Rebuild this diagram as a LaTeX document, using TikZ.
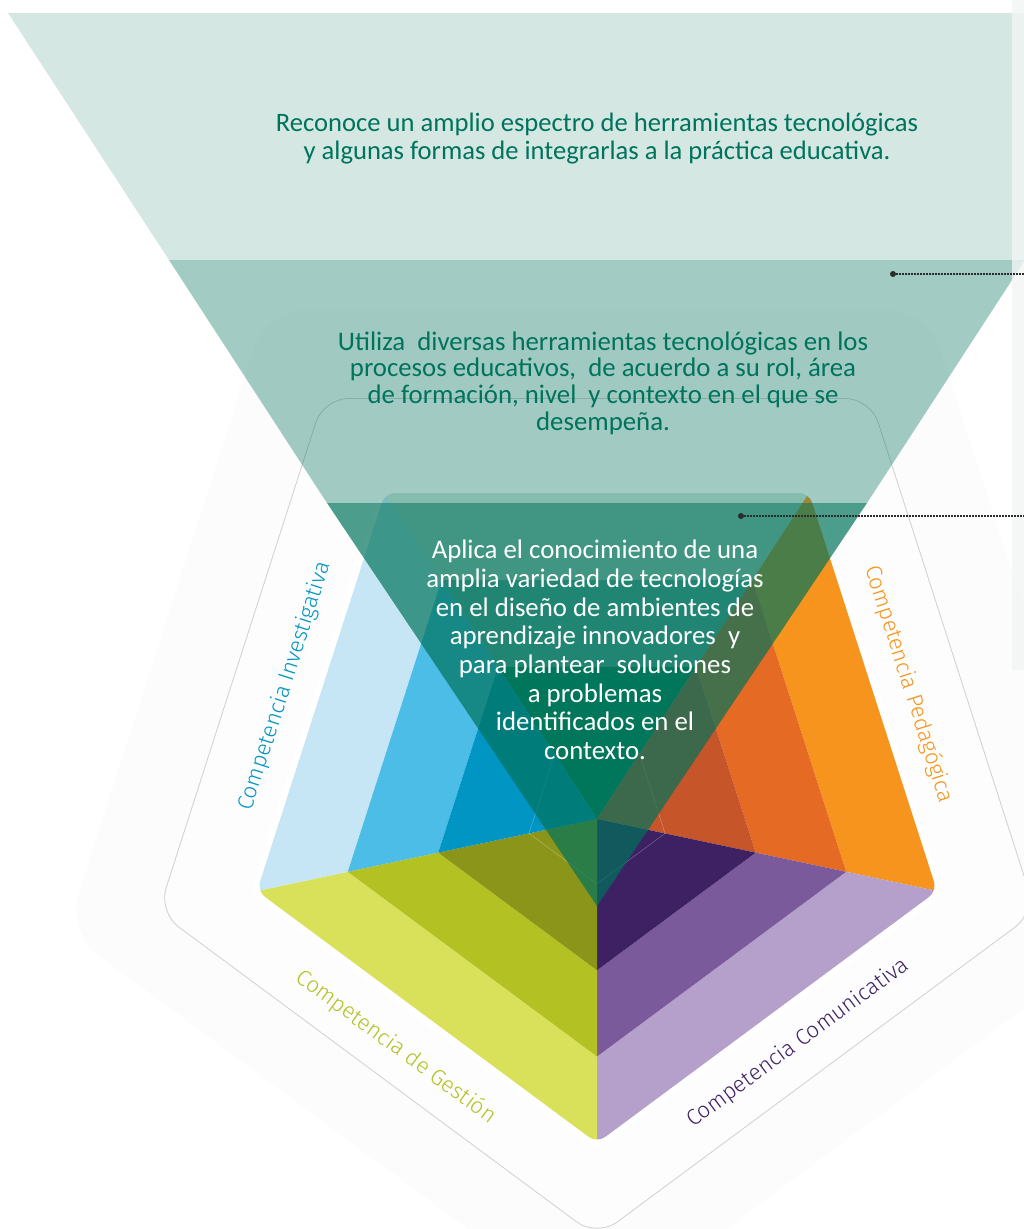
\documentclass[tikz,border=0pt]{standalone}
\usepackage{fontspec}
\setmainfont{Carlito}
\newfontfamily\lightfont{Fira Sans Light}
\usetikzlibrary{calc}
\definecolor{fun}{HTML}{00735C}
\definecolor{txtgreen}{HTML}{00735C}
\definecolor{topA}{HTML}{D2E6DC}
\definecolor{topB}{HTML}{6AB3A8}
\definecolor{topC}{HTML}{007F58}
\definecolor{orA}{HTML}{F7941D}
\definecolor{orB}{HTML}{E56B24}
\definecolor{orC}{HTML}{C6552A}
\definecolor{puA}{HTML}{B4A0CA}
\definecolor{puB}{HTML}{7B5A9B}
\definecolor{puC}{HTML}{3D2163}
\definecolor{olA}{HTML}{D9E15A}
\definecolor{olB}{HTML}{B3C122}
\definecolor{olC}{HTML}{8B9519}
\definecolor{blA}{HTML}{C6E6F5}
\definecolor{blB}{HTML}{4BBDE6}
\definecolor{blC}{HTML}{0095C3}
\definecolor{outerbg}{HTML}{FCFCFC}
\definecolor{innerbg}{HTML}{FDFDFD}
\definecolor{outlinec}{HTML}{D0D0D0}
\definecolor{stripc}{HTML}{F2F5F4}
\definecolor{dotc}{HTML}{2B2B2B}
\begin{document}
\begin{tikzpicture}[x=1pt,y=-1pt,
  leveltext/.style={align=center, inner sep=0pt},
  complabel/.style={inner sep=0pt, font={\lightfont\fontsize{22.3}{26}\selectfont}},
  leader/.style={dotc, line width=1.1pt, dash pattern=on 1.5pt off 1.5pt},
  leaderdot/.style={fill=dotc}]
\useasboundingbox (0,0) rectangle (1024,1229);
\fill[white] (0,0) rectangle (1024,1229);
% pentagon geometry
\coordinate (C) at (597,819);
\coordinate (PTL) at (385,493);
\coordinate (PTR) at (809,493);
\coordinate (PR) at (937,891);
\coordinate (PB) at (597,1143);
\coordinate (PL) at (257,891);
% faint background shapes
\fill[outerbg, rounded corners=40pt] ($(C)!1.56!(PTL)$) -- ($(C)!1.56!(PTR)$) -- ($(C)!1.56!(PR)$) -- ($(C)!1.56!(PB)$) -- ($(C)!1.56!(PL)$) -- cycle;
\filldraw[fill=innerbg, draw=outlinec, line width=0.8pt, rounded corners=25pt] ($(C)!1.29!(PTL)$) -- ($(C)!1.29!(PTR)$) -- ($(C)!1.29!(PR)$) -- ($(C)!1.29!(PB)$) -- ($(C)!1.29!(PL)$) -- cycle;
% white border of coloured pentagon
\draw[white, line width=12pt, rounded corners=10pt] (PTL) -- (PTR) -- (PR) -- (PB) -- (PL) -- cycle;
% coloured sectors
\begin{scope}
\clip[rounded corners=10pt] (PTL) -- (PTR) -- (PR) -- (PB) -- (PL) -- cycle;
\foreach \a/\b/\ca/\cb/\cc in {PTL/PTR/topA/topB/topC, PTR/PR/orA/orB/orC, PR/PB/puA/puB/puC, PB/PL/olA/olB/olC, PL/PTL/blA/blB/blC}{
  \fill[\ca] ($(C)!1.05!(\a)$) -- ($(C)!1.05!(\b)$) -- ($(C)!0.733!(\b)$) -- ($(C)!0.733!(\a)$) -- cycle;
  \fill[\cb] ($(C)!0.733!(\a)$) -- ($(C)!0.733!(\b)$) -- ($(C)!0.467!(\b)$) -- ($(C)!0.467!(\a)$) -- cycle;
  \fill[\cc] ($(C)!0.467!(\a)$) -- ($(C)!0.467!(\b)$) -- (C) -- cycle;
}
\draw[white, opacity=0.3, line width=0.5pt] ($(C)!0.2!(PTL)$) -- ($(C)!0.2!(PTR)$) -- ($(C)!0.2!(PR)$) -- ($(C)!0.2!(PB)$) -- ($(C)!0.2!(PL)$) -- cycle;
\end{scope}
% funnel
\fill[fun, opacity=0.17] (8,13) -- (1186,13) -- (1025,260) -- (169,260) -- cycle;
\fill[fun, opacity=0.365] (169,260) -- (1025,260) -- (867,503) -- (327,503) -- cycle;
\fill[fun, opacity=0.694] (327,503) -- (867,503) -- (597,906) -- cycle;
% level texts
\node[leveltext, text=txtgreen, font={\fontsize{26.6}{28}\selectfont}] (lvl1) at (597,139) {Reconoce un amplio espectro de herramientas tecnológicas\\y algunas formas de integrarlas a la práctica educativa.};
\node[leveltext, text=txtgreen, font={\fontsize{26.8}{26.7}\selectfont}] (lvl2) at (603,383) {Utiliza\ \ diversas herramientas tecnológicas en los\\procesos educativos,\ \ de acuerdo a su rol, área\\de formación, nivel\ \ y contexto en el que se\\desempeña.};
\node[leveltext, text=white, font={\fontsize{26.8}{28.7}\selectfont}] (lvl3) at (595,650) {Aplica el conocimiento de una\\amplia variedad de tecnologías\\en el diseño de ambientes de\\aprendizaje innovadores\ \ y\\para plantear\ \ soluciones\\a problemas\\identificados en el\\contexto.};
% competence labels
\node[complabel, text=blC, rotate=72.3] (linv) at (285,686) {Competencia Investigativa};
\node[complabel, text=orA, rotate=-72.3] (lped) at (909,684) {Competencia Pedagógica};
\node[complabel, text=olB, rotate=-36.4] (lges) at (396,1047) {Competencia de Gestión};
\node[complabel, text=puC, rotate=36.4] (lcom) at (798,1043) {Competencia Comunicativa};
% right strip
\fill[stripc, opacity=0.8] (1012,0) rectangle (1024,670);
% leaders
\coordinate (d1) at (893,274);
\coordinate (e1) at (1024,274);
\coordinate (d2) at (741,516);
\coordinate (e2) at (1024,516);
\draw[leader] (d1) -- (e1);
\draw[leader] (d2) -- (e2);
\fill[leaderdot] (d1) circle (3pt);
\fill[leaderdot] (d2) circle (3pt);
\end{tikzpicture}
\end{document}
